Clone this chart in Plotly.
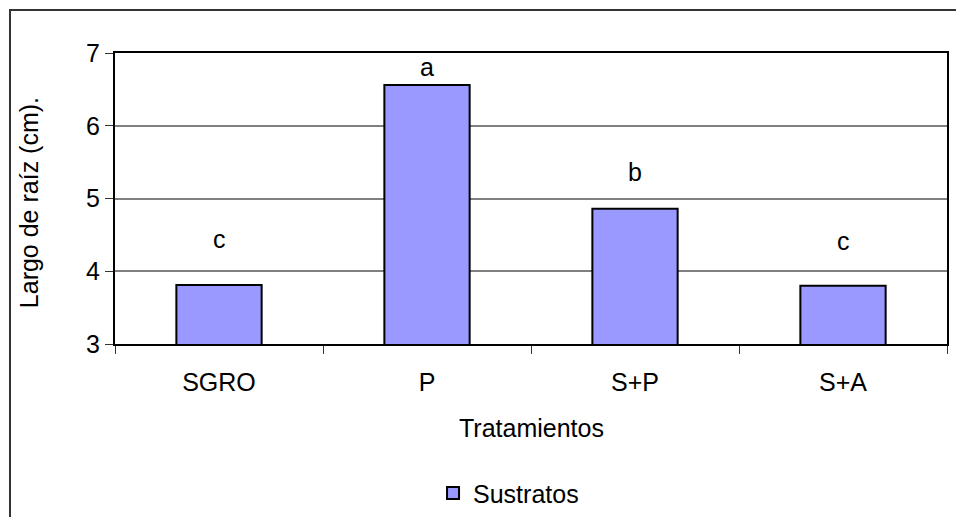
import plotly.graph_objects as go

# Data
tratamientos = ["SGRO", "P", "S+P", "S+A"]
largo_raiz = [3.81, 6.56, 4.86, 3.80]
letras = ["c", "a", "b", "c"]
letra_y = [4.45, 6.81, 5.36, 4.42]
y_ticks = [3, 4, 5, 6, 7]

FONT = "Liberation Sans, Arial, sans-serif"
SIZE = 25

fig = go.Figure()
fig.add_trace(go.Bar(
    x=tratamientos,
    y=largo_raiz,
    name="Sustratos",
    width=0.41,
    marker=dict(color="#9999FF", line=dict(color="black", width=2)),
))

# Significance letters above each bar
for cat, txt, yy in zip(tratamientos, letras, letra_y):
    fig.add_annotation(x=cat, y=yy, text=txt, showarrow=False,
                       font=dict(family=FONT, size=SIZE, color="black"),
                       xanchor="center", yanchor="middle")

# Axis titles
fig.add_annotation(xref="paper", yref="paper", x=0.5, y=-0.29,
                   text="Tratamientos", showarrow=False,
                   font=dict(family=FONT, size=SIZE, color="black"),
                   xanchor="center", yanchor="middle")
fig.add_annotation(xref="paper", yref="paper", x=-0.103, y=0.485,
                   text="Largo de raíz (cm).", showarrow=False, textangle=-90,
                   font=dict(family=FONT, size=SIZE, color="black"),
                   xanchor="center", yanchor="middle")

# Outer chart frame (extends past the right/bottom edges)
fig.add_shape(type="rect", xref="paper", yref="paper",
              x0=-0.1262, x1=1.2, y0=-1.0, y1=1.1478,
              line=dict(color="#333333", width=2), fillcolor="rgba(0,0,0,0)",
              layer="below")

fig.update_layout(
    width=956, height=517,
    margin=dict(l=115, r=9, t=53, b=173, autoexpand=False),
    plot_bgcolor="white", paper_bgcolor="white",
    font=dict(family=FONT, size=SIZE, color="black"),
    showlegend=True,
    legend=dict(orientation="h", x=0.473, xanchor="center",
                yref="container", y=0.046, yanchor="middle",
                font=dict(family=FONT, size=SIZE), itemwidth=30,
                bgcolor="rgba(0,0,0,0)"),
    xaxis=dict(
        type="category",
        showline=True, linecolor="black", linewidth=2, mirror=True,
        ticks="outside", tickson="boundaries", ticklen=8, tickcolor="#333333", tickwidth=1,
        tickfont=dict(family=FONT, size=SIZE),
        ticklabelstandoff=15,
        showgrid=False,
    ),
    yaxis=dict(
        range=[3, 7], tickvals=y_ticks,
        showline=True, linecolor="black", linewidth=2, mirror=True,
        ticks="outside", ticklen=8, tickcolor="#333333", tickwidth=1,
        tickfont=dict(family=FONT, size=SIZE),
        showgrid=True, gridcolor="#808080", gridwidth=1.5,
        zeroline=False,
    ),
)

fig.write_html("out.html")
